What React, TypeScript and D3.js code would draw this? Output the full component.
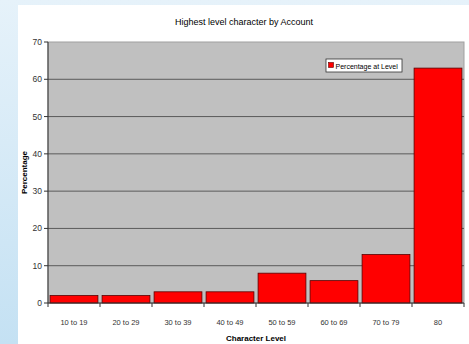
import React from 'react';
import * as d3 from 'd3';

const categories = ['10 to 19', '20 to 29', '30 to 39', '40 to 49', '50 to 59', '60 to 69', '70 to 79', '80'];
const percentages = [2, 2, 3, 3, 8, 6, 13, 63];
const yTicks = [0, 10, 20, 30, 40, 50, 60, 70];
const seriesName = 'Percentage at Level';

const width = 469;
const height = 344;
const plot = { left: 48, right: 464, top: 42, bottom: 303 };

export default function App() {
  const x = d3.scaleBand<string>()
    .domain(categories)
    .range([plot.left, plot.right])
    .paddingInner(0.08)
    .paddingOuter(0.04);

  // tick positions at band boundaries
  const step = (plot.right - plot.left) / categories.length;

  const y = d3.scaleLinear()
    .domain([0, 70])
    .range([plot.bottom, plot.top]);

  const font = '"Liberation Sans", Arial, sans-serif';

  return (
    <svg
      width={width}
      height={height}
      style={{ position: 'absolute', left: 0, top: 0, fontFamily: font }}
    >
      <defs>
        <linearGradient id="bg" x1="0" y1="0" x2="0" y2="1">
          <stop offset="0%" stopColor="#e6f2fa" />
          <stop offset="100%" stopColor="#c4e1f3" />
        </linearGradient>
      </defs>
      <rect x={0} y={0} width={width} height={height} fill="url(#bg)" />
      <rect x={18} y={5} width={width - 18} height={height - 5} fill="#ffffff" />

      {/* title */}
      <text x={244} y={25} textAnchor="middle" fontSize={9} fill="#000">
        Highest level character by Account
      </text>

      {/* plot area */}
      <rect
        x={plot.left}
        y={plot.top}
        width={plot.right - plot.left}
        height={plot.bottom - plot.top}
        fill="#c0c0c0"
        stroke="#a0a0a0"
        strokeWidth={1}
      />

      {/* gridlines */}
      {yTicks.filter(t => t > 0 && t < 70).map(t => (
        <line key={t} x1={plot.left} x2={plot.right} y1={y(t)} y2={y(t)} stroke="#5a5a5a" strokeWidth={1} />
      ))}

      {/* bars */}
      {categories.map((c, i) => (
        <rect
          key={c}
          x={x(c)}
          y={y(percentages[i])}
          width={x.bandwidth()}
          height={y(0) - y(percentages[i])}
          fill="#ff0000"
          stroke="#5a0000"
          strokeWidth={0.8}
        />
      ))}

      {/* axes */}
      <line x1={plot.left} x2={plot.left} y1={plot.top} y2={plot.bottom} stroke="#333" />
      <line x1={plot.left} x2={plot.right} y1={plot.bottom} y2={plot.bottom} stroke="#333" />

      {yTicks.map(t => (
        <g key={t}>
          <line x1={plot.left - 4} x2={plot.left} y1={y(t)} y2={y(t)} stroke="#333" />
          <text x={plot.left - 6} y={y(t) + 3} textAnchor="end" fontSize={8.5} fill="#333">{t}</text>
        </g>
      ))}

      {d3.range(categories.length + 1).map(i => (
        <line
          key={i}
          x1={plot.left + i * step}
          x2={plot.left + i * step}
          y1={plot.bottom}
          y2={plot.bottom + 4}
          stroke="#333"
        />
      ))}

      {categories.map(c => (
        <text
          key={c}
          x={(x(c) ?? 0) + x.bandwidth() / 2}
          y={plot.bottom + 22}
          textAnchor="middle"
          fontSize={7.5}
          fill="#333"
        >
          {c}
        </text>
      ))}

      {/* axis titles */}
      <text x={256} y={341} textAnchor="middle" fontSize={8} fontWeight="bold" fill="#000">
        Character Level
      </text>
      <text
        transform={`translate(27, ${(plot.top + plot.bottom) / 2}) rotate(-90)`}
        textAnchor="middle"
        fontSize={8}
        fontWeight="bold"
        fill="#000"
      >
        Percentage
      </text>

      {/* legend */}
      <rect x={326} y={59} width={76} height={13} fill="#ffffff" stroke="#333" strokeWidth={0.8} />
      <rect x={328.5} y={62.5} width={5} height={5} fill="#ff0000" stroke="#5a0000" strokeWidth={0.6} />
      <text x={335.5} y={68.5} fontSize={7} fill="#000">{seriesName}</text>
    </svg>
  );
}
